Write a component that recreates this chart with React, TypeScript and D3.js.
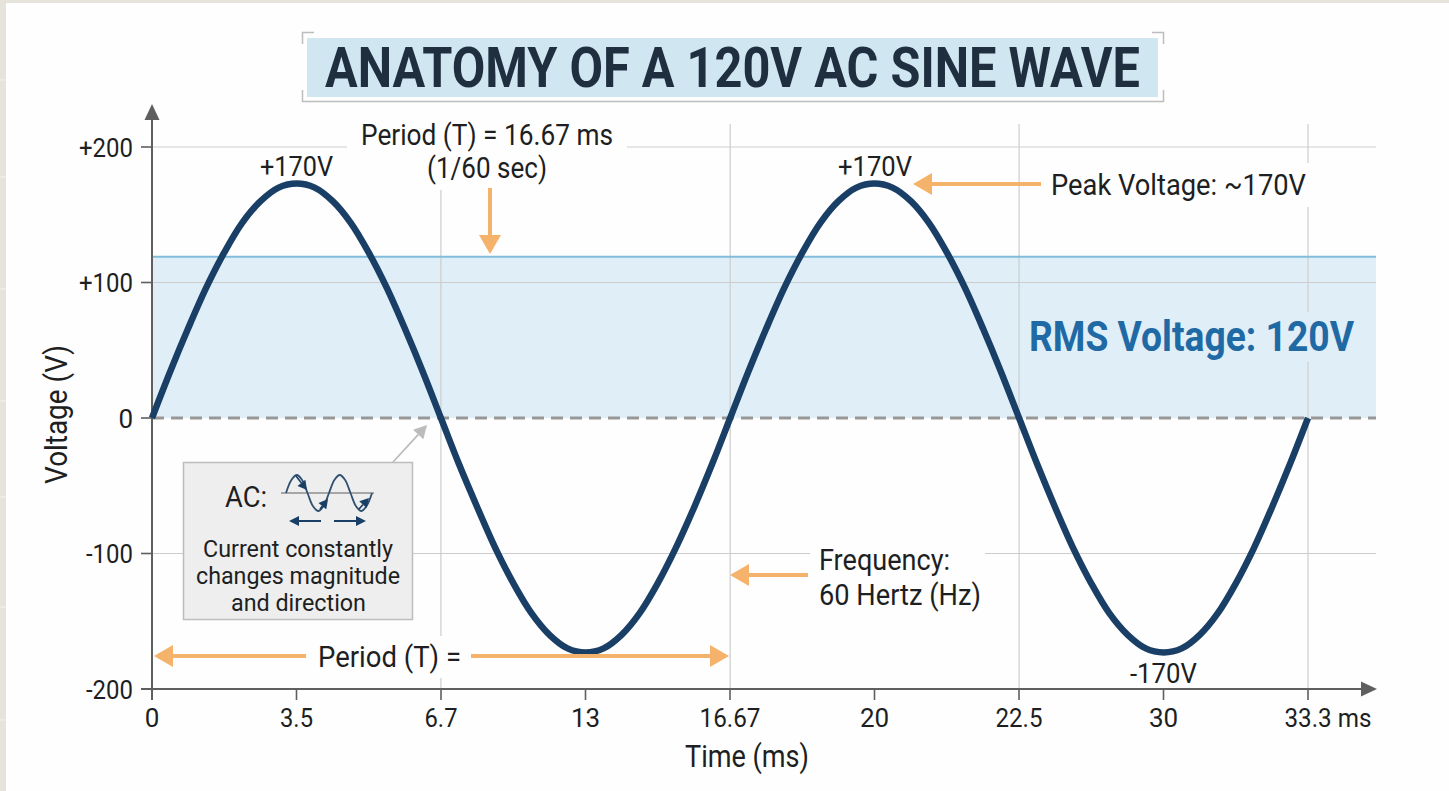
import React from "react";
import * as d3 from "d3";

const xTickLabels = ["0", "3.5", "6.7", "13", "16.67", "20", "22.5", "30", "33.3 ms"];
const yTicks = [-200, -100, 0, 100, 200];
const yTickLabels = ["-200", "-100", "0", "+100", "+200"];
const gridY = [200, 100, -100];
const gridT = [8.33, 16.67, 25, 33.33];
const rmsLevel = 119;
const waveTime = [0, 0.52, 1.04, 1.56, 2.08, 2.6, 3.13, 3.65, 4.17, 4.69, 5.21, 5.73, 6.25, 6.77, 7.29, 7.81, 8.33, 8.85, 9.38, 9.9, 10.42, 10.94, 11.46, 11.98, 12.5, 13.02, 13.54, 14.06, 14.58, 15.1, 15.63, 16.15, 16.67, 17.19, 17.71, 18.23, 18.75, 19.27, 19.79, 20.31, 20.83, 21.35, 21.88, 22.4, 22.92, 23.44, 23.96, 24.48, 25, 25.52, 26.04, 26.56, 27.08, 27.6, 28.13, 28.65, 29.17, 29.69, 30.21, 30.73, 31.25, 31.77, 32.29, 32.81, 33.33];
const waveVolts = [0, 34, 66, 96, 122, 144, 160, 170, 173, 170, 160, 144, 122, 96, 66, 34, 0, -34, -66, -96, -122, -144, -160, -170, -173, -170, -160, -144, -122, -96, -66, -34, 0, 34, 66, 96, 122, 144, 160, 170, 173, 170, 160, 144, 122, 96, 66, 34, 0, -34, -66, -96, -122, -144, -160, -170, -173, -170, -160, -144, -122, -96, -66, -34, 0];
const miniPhase = [0, 1, 2, 3, 4, 5, 6, 7, 8, 9, 10, 11, 12, 13, 14, 15, 16];
const miniLevel = [0, 0.72, 1, 0.72, 0, -0.72, -1, -0.72, 0, 0.72, 1, 0.72, 0, -0.72, -1, -0.72, 0];

const FONT = "Roboto, sans-serif";
const INK = "#1d1f22";
const NAVY = "#1a3f66";
const ORANGE = "#f5b26b";
const GRID = "#cdcdcd";
const AXIS = "#5f5f5f";
const BAND = "#e0eff7";

const x = d3.scaleLinear().domain([0, 33.33]).range([152, 1308]);
const xTick = d3.scalePoint<string>().domain(xTickLabels).range([152, 1308]);
const y = d3.scaleLinear().domain([-200, 200]).range([689, 147]);
const wavePath = d3
  .line<number>()
  .x((_, i) => x(waveTime[i]))
  .y((d) => y(d))
  .curve(d3.curveCatmullRom)(waveVolts) as string;

const miniX = d3.scaleLinear().domain([0, 16]).range([286, 372]);
const miniY = d3.scaleLinear().domain([-1, 1]).range([511, 475]);
const miniPath = d3
  .line<number>()
  .x((_, i) => miniX(miniPhase[i]))
  .y((d) => miniY(d))
  .curve(d3.curveCatmullRom)(miniLevel) as string;

function T({ x: tx, y: ty, w, size = 25, weight = 400, fill = INK, children }: any) {
  return (
    <text x={tx} y={ty} textLength={w} lengthAdjust="spacingAndGlyphs" fontFamily={FONT} fontSize={size} fontWeight={weight} fill={fill}>
      {children}
    </text>
  );
}

function Arrow({ x1, y1, x2, y2, color = ORANGE, width = 4, head = 19, half = 11 }: any) {
  const a = Math.atan2(y2 - y1, x2 - x1);
  const c = Math.cos(a);
  const s = Math.sin(a);
  const bx = x2 - c * head;
  const by = y2 - s * head;
  return (
    <g>
      <line x1={x1} y1={y1} x2={bx} y2={by} stroke={color} strokeWidth={width} />
      <polygon points={`${x2},${y2} ${bx - s * half},${by + c * half} ${bx + s * half},${by - c * half}`} fill={color} />
    </g>
  );
}

const masks = [
  [347, 122, 280, 68, "#fefefe"],
  [1040, 163, 272, 44, "#fefefe"],
  [810, 544, 175, 70, "#fefefe"],
  [306, 636, 165, 42, "#fefefe"],
  [425, 150, 125, 40, "#fefefe"],
  [1300, 312, 16, 50, BAND],
];

const stripMarks = [80, 177, 289, 401, 497, 607, 720];

export default function App() {
  return (
    <svg width={1449} height={791} style={{ position: "absolute", left: 0, top: 0, background: "#fefefe" }}>
      <rect x={0} y={0} width={1449} height={3} fill="#e6e3da" />
      <rect x={0} y={0} width={6} height={791} fill="#e6e3da" />
      {stripMarks.map((m) => (
        <line key={m} x1={0} x2={6} y1={m} y2={m} stroke="#f4f2ec" strokeWidth={1} />
      ))}

      {/* title */}
      <path d="M314 32.5H302.5V44M302.5 90V101.5H1163.5V90M1152 32.5H1163.5V44" fill="none" stroke="#bdbdbd" strokeWidth={1.5} />
      <rect x={307} y={38} width={851} height={59} fill="#d0e6f1" />
      <T x={325} y={87} w={815} size={56} weight={700} fill="#1f2f3f">ANATOMY OF A 120V AC SINE WAVE</T>

      {/* band */}
      <rect x={x(0)} y={y(rmsLevel)} width={1376 - x(0)} height={y(0) - y(rmsLevel)} fill={BAND} />

      {/* grid */}
      {gridY.map((v) => (
        <line key={v} x1={x(0)} x2={1376} y1={y(v)} y2={y(v)} stroke={GRID} strokeWidth={1.2} />
      ))}
      {gridT.map((t) => (
        <line key={t} x1={x(t)} x2={x(t)} y1={124} y2={y(-200)} stroke={GRID} strokeWidth={1.2} />
      ))}
      {masks.map(([mx, my, mw, mh, mf], i) => (
        <rect key={i} x={mx as number} y={my as number} width={mw as number} height={mh as number} fill={mf as string} />
      ))}

      <line x1={x(0)} x2={1376} y1={y(rmsLevel)} y2={y(rmsLevel)} stroke="#82bcdc" strokeWidth={2.2} />
      <line x1={x(0)} x2={1376} y1={y(0)} y2={y(0)} stroke="#989898" strokeWidth={3} strokeDasharray="12 7" />

      {/* axes */}
      <line x1={x(0)} x2={x(0)} y1={118} y2={y(-200) + 11} stroke={AXIS} strokeWidth={2} />
      <polygon points="152,104 144.5,120 159.5,120" fill={AXIS} />
      <line x1={141} x2={1364} y1={y(-200)} y2={y(-200)} stroke={AXIS} strokeWidth={2} />
      <polygon points="1377,689 1361,681.5 1361,696.5" fill={AXIS} />
      {yTicks.map((v, i) => (
        <g key={v}>
          <line x1={141} x2={152} y1={y(v)} y2={y(v)} stroke={AXIS} strokeWidth={1.6} />
          <text x={133} y={y(v) + 9.5} textAnchor="end" fontFamily={FONT} fontSize={26} fill={INK} textLength={yTickLabels[i].length === 1 ? undefined : yTickLabels[i][0] === "+" ? 54 : 47} lengthAdjust="spacingAndGlyphs">
            {yTickLabels[i]}
          </text>
        </g>
      ))}
      {xTickLabels.map((l) => {
        const px = xTick(l) as number;
        const last = l === "33.3 ms";
        const narrow = l.length <= 2 ? undefined : last ? 87 : l.length * 14 - 9;
        return (
          <g key={l}>
            <line x1={px} x2={px} y1={y(-200)} y2={y(-200) + 11} stroke={AXIS} strokeWidth={1.6} />
            <text x={last ? px + 20 : px} y={727} textAnchor="middle" fontFamily={FONT} fontSize={26} fill={INK} textLength={narrow} lengthAdjust="spacingAndGlyphs">
              {l}
            </text>
          </g>
        );
      })}
      <T x={685} y={767} w={124} size={31}>Time (ms)</T>
      <g transform="translate(67,484) rotate(-90)">
        <T x={0} y={0} w={139} size={31}>Voltage (V)</T>
      </g>

      {/* wave */}
      <path d={wavePath} fill="none" stroke={NAVY} strokeWidth={6.5} />

      {/* annotations */}
      <T x={361} y={145} w={252} size={30}>Period (T) = 16.67 ms</T>
      <T x={427} y={178} w={120} size={30}>(1/60 sec)</T>
      <Arrow x1={490} y1={188} x2={490} y2={254} />
      <T x={260} y={176} w={73} size={27}>+170V</T>
      <T x={838} y={176} w={74} size={27}>+170V</T>
      <T x={1130} y={683} w={67} size={27}>-170V</T>
      <Arrow x1={1041} y1={184} x2={913} y2={184} />
      <T x={1051} y={195} w={255} size={30}>Peak Voltage: ~170V</T>
      <T x={1029} y={351} w={325} size={42} weight={700} fill="#1f6aa5">RMS Voltage: 120V</T>
      <Arrow x1={808} y1={575} x2={730} y2={575} />
      <T x={819} y={570} w={131} size={29}>Frequency:</T>
      <T x={819} y={605} w={162} size={29}>60 Hertz (Hz)</T>
      <Arrow x1={306} y1={656} x2={154} y2={656} />
      <Arrow x1={471} y1={656} x2={729} y2={656} />
      <T x={318} y={667} w={143} size={30}>Period (T) =</T>

      {/* AC box */}
      <Arrow x1={393} y1={462} x2={427} y2={425} color="#bcbcbc" width={1.8} head={13} half={7} />
      <rect x={183.5} y={462.5} width={229} height={157} fill="#eeeeee" stroke="#bdbdbd" strokeWidth={1.5} />
      <T x={225} y={507} w={42} size={29}>AC:</T>
      <line x1={281} x2={374} y1={493} y2={493} stroke="#a6a6a6" strokeWidth={2} />
      <path d={miniPath} fill="none" stroke="#2f5070" strokeWidth={1.8} />
      <Arrow x1={296} y1={476} x2={307} y2={490} color={NAVY} width={1.6} head={9} half={5} />
      <Arrow x1={320} y1={509} x2={328} y2={499} color={NAVY} width={1.6} head={9} half={5} />
      <Arrow x1={359} y1={509} x2={369} y2={498} color={NAVY} width={1.6} head={9} half={5} />
      <Arrow x1={321} y1={521} x2={289} y2={521} color={NAVY} width={2} head={10} half={5} />
      <Arrow x1={334} y1={521} x2={366} y2={521} color={NAVY} width={2} head={10} half={5} />
      <T x={203} y={557} w={190} size={23}>Current constantly</T>
      <T x={196} y={584} w={204} size={23}>changes magnitude</T>
      <T x={231} y={611} w={135} size={23}>and direction</T>
    </svg>
  );
}
